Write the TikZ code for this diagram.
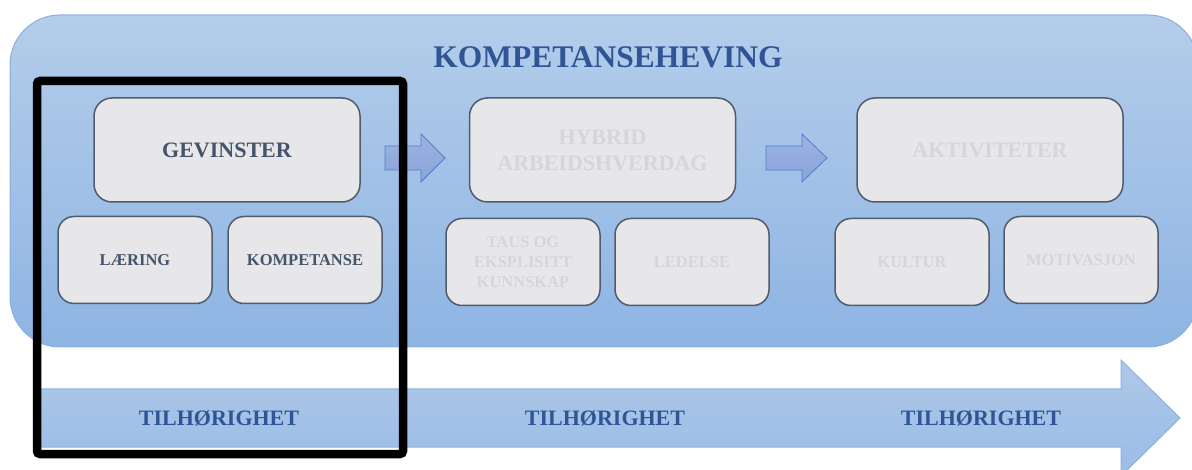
\documentclass[tikz,border=0pt]{standalone}
\usepackage{fontspec}
\setmainfont{Liberation Serif}
\definecolor{boxfill}{HTML}{E7E6E8}
\definecolor{boxline}{HTML}{505B6B}
\definecolor{darktext}{HTML}{44546A}
\definecolor{fadetext}{HTML}{D6D6D8}
\definecolor{titleblue}{HTML}{2F5597}
\definecolor{bgtop}{HTML}{B4CDEA}
\definecolor{bgbot}{HTML}{8EB4E3}
\definecolor{bgline}{HTML}{8AB0DE}
\definecolor{arrtop}{HTML}{AEC8E8}
\definecolor{arrbot}{HTML}{9ABCE6}
\definecolor{arrline}{HTML}{8CB3E0}
\definecolor{satop}{HTML}{9CB2E2}
\definecolor{sabot}{HTML}{8AA3D8}
\definecolor{saline}{HTML}{4F7FD0}
\begin{document}
\begin{tikzpicture}[x=1pt,y=-1pt,
  bigbox/.style={rectangle, draw=boxline, line width=1.5pt, fill=boxfill,
    rounded corners=18pt, minimum width=266pt, minimum height=104pt,
    align=center, inner sep=0pt, font=\bfseries\fontsize{22}{26}\selectfont},
  smallbox/.style={rectangle, draw=boxline, line width=1.5pt, fill=boxfill,
    rounded corners=16pt, minimum width=154pt, minimum height=87pt,
    align=center, inner sep=0pt, font=\bfseries\fontsize{16.5}{20}\selectfont},
  smallarrow/.style={draw=saline, line width=0.8pt, top color=satop, bottom color=sabot},
  bandtext/.style={text=titleblue, font=\bfseries\fontsize{22}{26}\selectfont}
]
\useasboundingbox (0,0) rectangle (1192,470);
\clip (0,0) rectangle (1192,470);
% background panel
\path[draw=bgline, line width=1pt, top color=bgtop, bottom color=bgbot, rounded corners=50pt]
  (10,15) rectangle (1198,347);
\node[text=titleblue, font=\bfseries\fontsize{31.5}{36}\selectfont] (title) at (608,57) {KOMPETANSEHEVING};
% big boxes
\node[bigbox, text=darktext] (gev) at (227,150) {GEVINSTER};
\node[bigbox, text=fadetext] (hyb) at (602.5,150) {HYBRID\\ARBEIDSHVERDAG};
\node[bigbox, text=fadetext] (akt) at (990,150) {AKTIVITETER};
% small boxes
\node[smallbox, text=darktext] (laer) at (135,260) {LÆRING};
\node[smallbox, text=darktext] (komp) at (305,260) {KOMPETANSE};
\node[smallbox, text=fadetext] (taus) at (523,262) {TAUS OG\\EKSPLISITT\\KUNNSKAP};
\node[smallbox, text=fadetext] (led) at (692,262) {LEDELSE};
\node[smallbox, text=fadetext] (kul) at (912,262) {KULTUR};
\node[smallbox, text=fadetext] (mot) at (1081,260) {MOTIVASJON};
% small arrows
\path[smallarrow] (385,146) -- (421,146) -- (421,134) -- (445,158) -- (421,182) -- (421,170) -- (385,170) -- cycle;
\path[smallarrow] (766,146) -- (802,146) -- (802,134) -- (827,158) -- (802,182) -- (802,170) -- (766,170) -- cycle;
% bottom band arrow
\path[draw=arrline, line width=1pt, top color=arrtop, bottom color=arrbot]
  (40,389) -- (1121,389) -- (1121,360) -- (1180,418) -- (1121,476) -- (1121,447) -- (40,447) -- cycle;
\node[bandtext] (t1) at (219,418) {TILHØRIGHET};
\node[bandtext] (t2) at (605,418) {TILHØRIGHET};
\node[bandtext] (t3) at (981,418) {TILHØRIGHET};
% black frame
\node[draw=black, line width=8.5pt, rounded corners=3pt, minimum width=366pt, minimum height=373pt, inner sep=0pt] (frame) at (220,267.5) {};
\end{tikzpicture}
\end{document}
